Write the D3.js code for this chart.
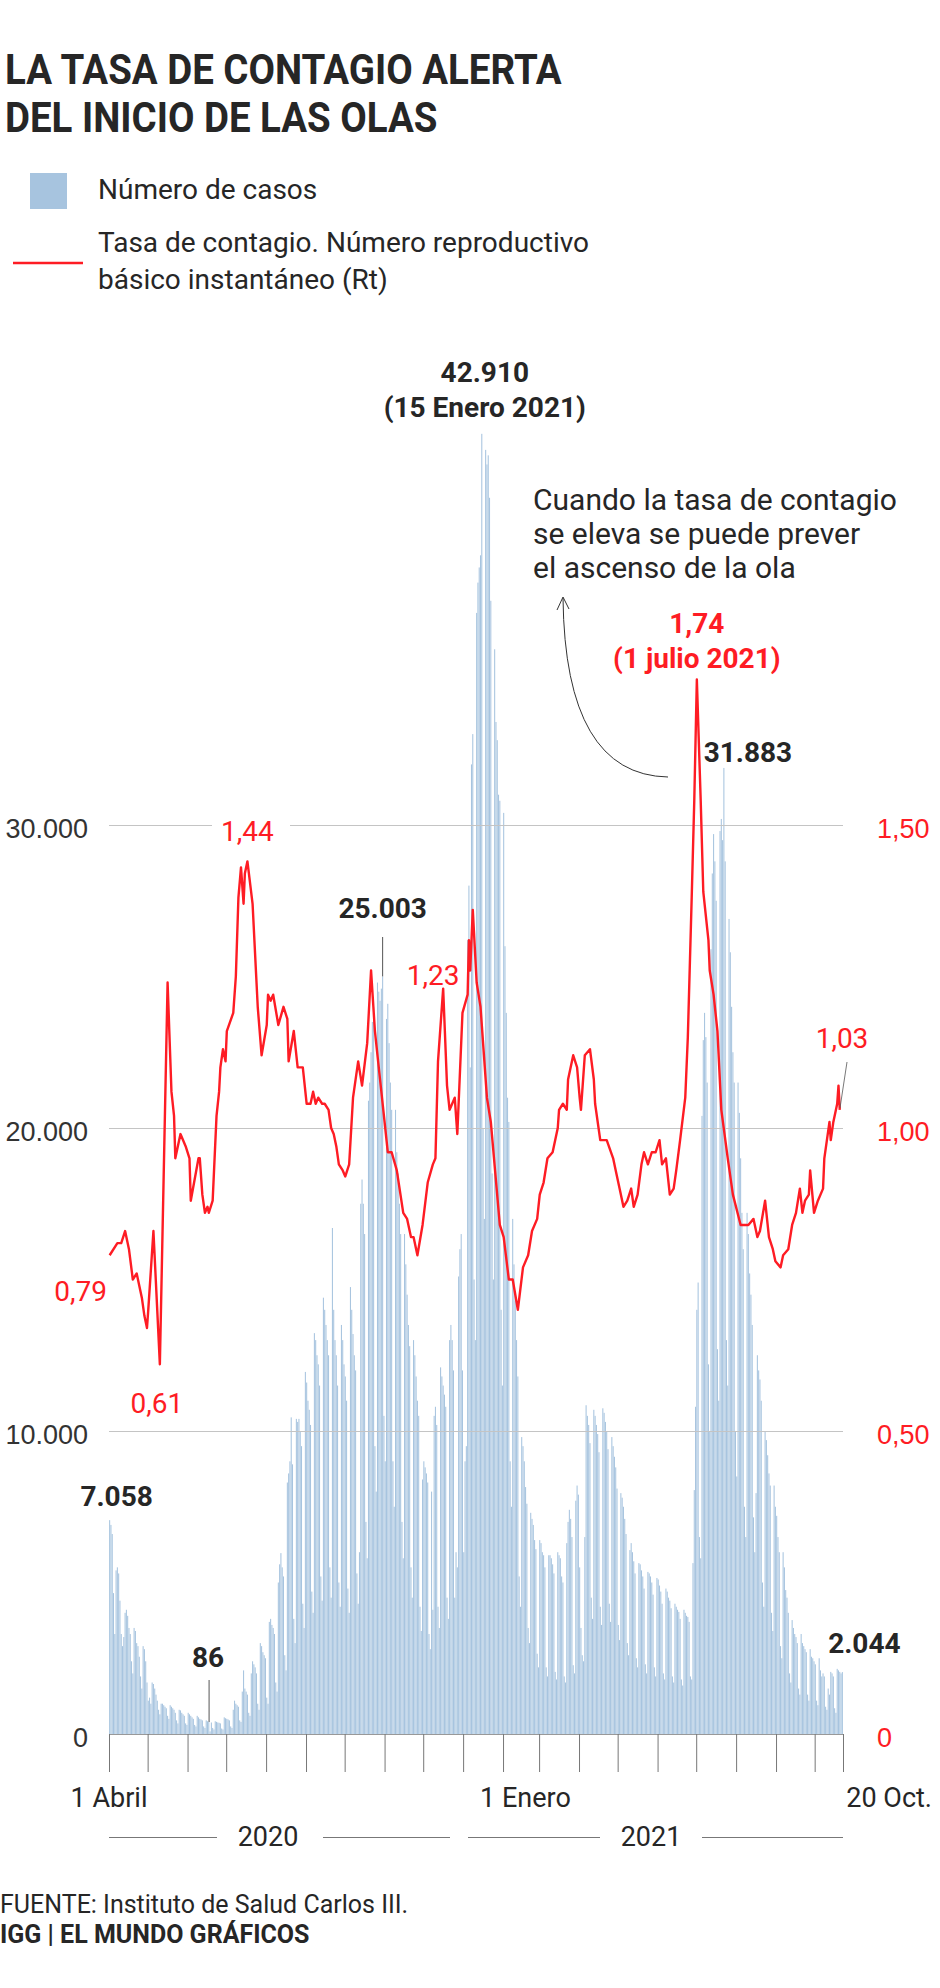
<!DOCTYPE html>
<html lang="es">
<head>
<meta charset="utf-8">
<title>La tasa de contagio alerta del inicio de las olas</title>
<script src="https://cdn.jsdelivr.net/npm/d3@7"></script>
<style>
  body { margin: 0; background: #fff; }
  svg { display: block; font-family: Roboto, "Noto Sans", sans-serif; }
</style>
</head>
<body>
<div id="chart"></div>
<script>
// daily cases, first row starts Wed 1 Apr 2020, then one row per week (Mon..Sun)
var cases = [
  7058, 6900, 6600, 4650, 3300,
  5400, 5500, 5300, 4400, 3300, 2900, 3200,
  4000, 4100, 3900, 3500, 3300, 2400, 2000,
  3500, 3400, 3000, 2900, 2550, 1900, 1500,
  2900, 2800, 2400, 1700, 1100, 1200, 1000,
  1700, 1650, 1500, 1300, 1100, 800, 650,
  1000, 1000, 950, 900, 850, 600, 500,
  950, 900, 850, 800, 700, 450, 350,
  800, 780, 700, 650, 600, 350, 300,
  700, 650, 600, 550, 500, 300, 250,
  600, 550, 500, 480, 450, 250, 200,
  450, 420, 400, 86, 380, 200, 150,
  420, 400, 380, 370, 350, 180, 150,
  550, 520, 500, 480, 450, 250, 200,
  800, 1100, 1000, 950, 900, 450, 400,
  1400, 2100, 1500, 1400, 1300, 700, 600,
  2000, 2400, 2300, 2200, 2000, 1000, 800,
  3000, 2900, 2700, 2600, 2500, 1200, 1000,
  3700, 3800, 3600, 3500, 3300, 1700, 1400,
  5000, 5600, 5970, 5500, 5200, 2600, 2100,
  8300, 8600, 9000, 10450, 8900, 3800, 3000,
  10400, 10300, 10400, 10000, 9500, 4300, 3500,
  11950, 11600, 11000, 10700, 10200, 4700, 4000,
  13230, 13000, 12500, 12200, 11500, 5200, 4400,
  14400, 14000, 13500, 13000, 12500, 5500, 4500,
  16700, 14000, 13000, 12500, 11500, 5000, 4200,
  13500, 13000, 12200, 11800, 11000, 4800, 4000,
  14750, 14000, 13200, 12500, 12000, 5300, 4300,
  6000, 17500, 18300, 17500, 16500, 7000, 5800,
  20900, 21500, 22500, 23500, 24000, 9500, 8000,
  24800, 24500, 24200, 24600, 25003, 10500, 9000,
  23600, 24100, 22800, 21500, 20600, 9000, 7500,
  20600, 19200, 18500, 17500, 16500, 7000, 5800,
  16500, 15500, 14500, 13500, 12800, 5500, 4500,
  13000, 12500, 11800, 11000, 10500, 4200, 3400,
  8400, 9000, 8800, 8600, 8300, 3300, 2800,
  8000, 4100, 10500, 10800, 10200, 4200, 3500,
  12100, 11800, 11500, 11200, 10800, 4500, 3800,
  13000, 13500, 13000, 12000, 4500, 6000, 5500,
  15100, 16000, 16500, 12000, 6000, 9000, 9500,
  26200, 28000, 22000, 32000, 33000, 15000, 13000,
  37000, 38000, 38500, 38900, 42910, 20000, 17000,
  42380, 41900, 42200, 40800, 37400, 18500, 15000,
  35800, 33400, 32800, 31000, 30800, 14000, 11500,
  30400, 26000, 23800, 21000, 20200, 9000, 7500,
  17000, 15500, 14300, 13000, 11800, 5200, 4200,
  9800, 9500, 9000, 8150, 7600, 3500, 3000,
  7300, 7100, 6900, 6400, 6100, 2650, 2200,
  6400, 6300, 6000, 5900, 5500, 2200, 1900,
  5900, 5900, 5800, 5600, 5300, 2050, 1800,
  6000, 5900, 5800, 5200, 5000, 1900, 1700,
  6300, 7000, 7400, 7100, 6500, 2270, 2000,
  7700, 8200, 7900, 5500, 3500, 2600, 2400,
  6500, 10850, 10500, 10200, 9600, 4500, 3800,
  10700, 10500, 10200, 9900, 9300, 4200, 3600,
  10750, 10600, 10300, 10000, 9400, 4300, 3700,
  9800, 9500, 9150, 8800, 8100, 3600, 3100,
  7950, 7800, 7500, 7100, 6600, 3000, 2600,
  6070, 6300, 6000, 5700, 5300, 2500, 2200,
  5640, 5600, 5400, 5200, 4800, 2300, 2000,
  5350, 5300, 5200, 5000, 4600, 2200, 1900,
  5150, 5100, 4900, 4700, 4300, 2000, 1800,
  4800, 4700, 4500, 4400, 4150, 1900, 1700,
  4300, 4200, 4100, 4030, 3800, 1800, 1600,
  4100, 4000, 3900, 3860, 3700, 1900, 1800,
  5640, 8050, 10800, 14000, 14900, 6500, 5800,
  20400, 22900, 23800, 23000, 21500, 12200, 10000,
  25900, 28400, 29700, 28800, 27500, 12700, 11000,
  29800, 30200, 29500, 31883, 28800, 13000, 11500,
  26900, 25800, 24000, 22500, 21500, 10000, 8500,
  21500, 20500, 19000, 17200, 16000, 7500, 6500,
  17200, 16500, 15200, 14500, 13500, 7150, 6000,
  7950, 12500, 12000, 11700, 11000, 5000, 4200,
  10000, 9700, 9200, 8600, 8200, 4000, 3400,
  8200, 7500, 7200, 6500, 6000, 2900, 2500,
  6000, 5500, 4750, 4500, 4000, 2000, 1700,
  3760, 3500, 3300, 3200, 3000, 1500, 1300,
  3300, 3000, 2900, 2800, 2700, 1300, 1100,
  2800, 2550, 2500, 2400, 2300, 1100, 950,
  2500, 2100, 1900, 2000, 1900, 900, 800,
  1500, 1300, 2050, 2000, 1900, 850, 700,
  2150, 2100, 2050, 2000, 2044
];
var firstDate = "2020-04-01";

// Rt: days since 1 Apr 2020 and value
var rtDay = [0, 6, 9, 12, 15, 18, 21, 25, 27, 29, 30, 34, 39, 45, 48, 50, 51, 55, 59, 62,
  63, 69, 70, 72, 74, 76, 77, 80, 83, 85, 86, 88, 90, 91, 96, 98, 100, 102, 104, 105,
  107, 111, 115, 118, 122, 123, 125, 127, 131, 135, 138, 139, 143, 146, 150, 153, 156, 158, 160, 162,
  165, 167, 170, 172, 174, 176, 178, 181, 183, 186, 189, 193, 196, 200, 203, 206, 210, 216, 219, 223,
  228, 231, 234, 236, 239, 243, 247, 251, 253, 255, 259, 262, 264, 268, 270, 274, 278, 279, 280, 282,
  285, 288, 293, 296, 303, 306, 310, 313, 317, 321, 325, 328, 332, 334, 337, 340, 344, 348, 349, 352,
  355, 356, 360, 363, 365, 366, 369, 373, 376, 377, 381, 386, 391, 393, 396, 399, 402, 405, 407, 410,
  413, 415, 418, 421, 424, 427, 429, 432, 435, 438, 440, 443, 447, 449, 452, 454, 456, 459, 461, 465,
  466, 469, 472, 475, 480, 484, 490, 492, 496, 500, 503, 505, 509, 512, 515, 517, 521, 523, 527, 530,
  533, 536, 538, 540, 543, 544, 547, 550, 554, 555, 557, 559, 560, 562, 565, 566, 567];
var rtValue = [0.79, 0.81, 0.81, 0.83, 0.80, 0.75, 0.76, 0.72, 0.69, 0.67, 0.70, 0.83, 0.61, 1.24, 1.06, 1.02, 0.95, 0.99, 0.97, 0.95,
  0.88, 0.95, 0.95, 0.89, 0.86, 0.87, 0.86, 0.88, 1.02, 1.06, 1.10, 1.13, 1.11, 1.16, 1.19, 1.25, 1.38, 1.43, 1.37, 1.42,
  1.44, 1.37, 1.20, 1.12, 1.17, 1.22, 1.21, 1.22, 1.17, 1.20, 1.18, 1.11, 1.16, 1.10, 1.10, 1.04, 1.04, 1.06, 1.04, 1.05,
  1.04, 1.04, 1.03, 1.00, 0.99, 0.97, 0.94, 0.93, 0.92, 0.94, 1.05, 1.11, 1.07, 1.14, 1.26, 1.16, 1.08, 0.96, 0.96, 0.93,
  0.86, 0.85, 0.82, 0.82, 0.79, 0.84, 0.91, 0.94, 0.95, 1.11, 1.23, 1.07, 1.03, 1.05, 0.99, 1.19, 1.22, 1.31, 1.26, 1.36,
  1.24, 1.20, 1.05, 1.01, 0.84, 0.82, 0.75, 0.75, 0.70, 0.77, 0.79, 0.83, 0.85, 0.89, 0.91, 0.95, 0.96, 1.00, 1.03, 1.04,
  1.03, 1.08, 1.12, 1.10, 1.05, 1.03, 1.12, 1.13, 1.08, 1.04, 0.98, 0.98, 0.95, 0.93, 0.90, 0.87, 0.88, 0.90, 0.87, 0.89,
  0.94, 0.96, 0.94, 0.96, 0.96, 0.98, 0.94, 0.95, 0.89, 0.90, 0.93, 0.98, 1.05, 1.15, 1.38, 1.54, 1.74, 1.54, 1.39, 1.31,
  1.26, 1.22, 1.16, 1.03, 0.95, 0.89, 0.84, 0.84, 0.84, 0.85, 0.82, 0.83, 0.88, 0.82, 0.80, 0.78, 0.77, 0.79, 0.80, 0.84,
  0.86, 0.90, 0.86, 0.88, 0.89, 0.93, 0.86, 0.88, 0.90, 0.95, 0.98, 1.01, 0.98, 1.01, 1.04, 1.07, 1.03];

var casesTicks = [0, 10000, 20000, 30000];
var rtTicks = [0, 0.5, 1, 1.5];

var red = "#fe1c24", ink = "#262626", barColor = "#a7c4df";

var esFormat = d3.formatLocale({decimal: ",", thousands: ".", grouping: [3], currency: ["", "€"]});
var fmtCases = esFormat.format(",d");
var fmtRt = function(d) { return d === 0 ? "0" : esFormat.format(".2f")(d); };

var width = 940, height = 1988;
var svg = d3.select("#chart").append("svg")
    .attr("width", width)
    .attr("height", height);

var start = d3.utcParse("%Y-%m-%d")(firstDate);
var dates = cases.map(function(d, i) { return d3.utcDay.offset(start, i); });
var end = d3.utcDay.offset(start, cases.length);

var x = d3.scaleUtc().domain([start, end]).range([109, 843]);
var yCases = d3.scaleLinear().domain([0, 30000]).range([1734, 825]);
var yRt = d3.scaleLinear().domain([0, 1.5]).range([1734, 825]);
var dayW = x(dates[1]) - x(dates[0]);

// title (condensed a little to match the original face)
var title = svg.append("g")
    .attr("transform", "translate(5,0) scale(0.915,1)")
    .attr("fill", ink).attr("font-weight", 700).attr("font-size", 42);
title.append("text").attr("x", 0).attr("y", 84).text("LA TASA DE CONTAGIO ALERTA");
title.append("text").attr("x", 0).attr("y", 132).text("DEL INICIO DE LAS OLAS");

// legend
var legend = svg.append("g").attr("fill", ink).attr("font-size", 28);
legend.append("rect").attr("x", 30).attr("y", 173).attr("width", 37).attr("height", 36).attr("fill", barColor);
legend.append("text").attr("x", 98).attr("y", 199).text("Número de casos");
legend.append("line").attr("x1", 13).attr("x2", 83).attr("y1", 263).attr("y2", 263)
    .attr("stroke", red).attr("stroke-width", 2.5);
legend.append("text").attr("x", 98).attr("y", 252).text("Tasa de contagio. Número reproductivo");
legend.append("text").attr("x", 98).attr("y", 289).text("básico instantáneo (Rt)");

// bars
svg.append("g")
    .attr("fill", barColor)
  .selectAll("rect")
  .data(cases)
  .enter().append("rect")
    .attr("x", function(d, i) { return x(dates[i]) + 0.12; })
    .attr("width", dayW - 0.24)
    .attr("y", function(d) { return yCases(d); })
    .attr("height", function(d) { return yCases(0) - yCases(d); });

// grid lines over the bars
svg.append("g")
    .attr("transform", "translate(109,0)")
    .call(d3.axisLeft(yCases).tickValues(casesTicks.slice(1)).tickSize(-(843 - 109)).tickFormat(""))
    .call(function(g) { g.select(".domain").remove(); })
    .selectAll("line").attr("stroke", "#c4c4c4");

// knock out the grid line behind the 1,44 label
svg.append("rect").attr("x", 212).attr("y", 815).attr("width", 78).attr("height", 30).attr("fill", "#fff");

// time axis with monthly ticks
var monthTicks = d3.utcMonth.range(start, end).concat([end]);
svg.append("g")
    .attr("transform", "translate(0,1734)")
    .call(d3.axisBottom(x).tickValues(monthTicks).tickSize(38).tickFormat("").tickSizeOuter(0))
    .call(function(g) {
      g.select(".domain").attr("stroke", "#999");
      g.selectAll(".tick line").attr("stroke", "#777");
    });

// left and right value axes
svg.append("g")
    .attr("transform", "translate(88,0)")
    .call(d3.axisLeft(yCases).tickValues(casesTicks).tickSize(0).tickPadding(0).tickFormat(fmtCases))
    .call(function(g) {
      g.select(".domain").remove();
      g.selectAll("text").attr("font-size", 27).attr("fill", "#333").attr("dy", 12)
        .attr("font-family", null);
    });
svg.append("g")
    .attr("transform", "translate(877,0)")
    .call(d3.axisRight(yRt).tickValues(rtTicks).tickSize(0).tickPadding(0).tickFormat(fmtRt))
    .call(function(g) {
      g.select(".domain").remove();
      g.selectAll("text").attr("font-size", 27).attr("fill", red).attr("dy", 12)
        .attr("font-family", null);
    });

// Rt line
var rt = rtDay.map(function(d, i) { return {date: d3.utcDay.offset(start, d), value: rtValue[i]}; });
svg.append("path")
    .datum(rt)
    .attr("fill", "none")
    .attr("stroke", red)
    .attr("stroke-width", 2.4)
    .attr("stroke-linejoin", "round")
    .attr("d", d3.line()
      .x(function(d) { return x(d.date) + dayW / 2; })
      .y(function(d) { return yRt(d.value); }));

// date labels under the axis
var dateLabels = svg.append("g").attr("font-size", 27).attr("fill", ink);
dateLabels.append("text").attr("x", x(start)).attr("y", 1807).attr("text-anchor", "middle").text("1 Abril");
dateLabels.append("text").attr("x", x(new Date(Date.UTC(2021, 0, 1))) + 17).attr("y", 1807).text("1 Enero");
dateLabels.append("text").attr("x", 932).attr("y", 1807).attr("text-anchor", "end").text("20 Oct.");

// year brackets
var years = svg.append("g").attr("font-size", 27).attr("fill", ink);
var yearLines = [[109, 217], [323, 450], [468, 600], [702, 843]];
years.selectAll("line").data(yearLines).enter().append("line")
    .attr("x1", function(d) { return d[0]; }).attr("x2", function(d) { return d[1]; })
    .attr("y1", 1837.5).attr("y2", 1837.5).attr("stroke", "#777");
years.append("text").attr("x", 268).attr("y", 1846).attr("text-anchor", "middle").text("2020");
years.append("text").attr("x", 651).attr("y", 1846).attr("text-anchor", "middle").text("2021");

// case annotations
function barX(v) { var i = cases.indexOf(v); return x(dates[i]) + dayW / 2; }
var notes = svg.append("g").attr("font-size", 28).attr("font-weight", 700).attr("fill", ink).attr("text-anchor", "middle");

notes.append("text").attr("x", barX(42910) + 3).attr("y", 382).text("42.910");
notes.append("text").attr("x", barX(42910) + 3).attr("y", 417).text("(15 Enero 2021)");

notes.append("text").attr("x", barX(25003)).attr("y", 918).text("25.003");
svg.append("line").attr("x1", barX(25003)).attr("x2", barX(25003))
    .attr("y1", 937).attr("y2", yCases(25003)).attr("stroke", "#555");

notes.append("text").attr("x", barX(31883) + 24).attr("y", 762).text("31.883");
notes.append("text").attr("x", barX(7058) + 7).attr("y", 1506).text("7.058");
notes.append("text").attr("x", barX(86) - 2).attr("y", 1667).text("86");
svg.append("line").attr("x1", barX(86) - 1).attr("x2", barX(86) - 1)
    .attr("y1", 1680).attr("y2", 1722).attr("stroke", "#555");
notes.append("text").attr("x", barX(2044) + 22).attr("y", 1653).text("2.044");

// Rt annotations
function rtX(v) { return x(d3.utcDay.offset(start, rtDay[rtValue.indexOf(v)])) + dayW / 2; }
var rtNotes = svg.append("g").attr("font-size", 28).attr("fill", red).attr("text-anchor", "middle");
rtNotes.append("text").attr("x", rtX(1.74)).attr("y", 633).attr("font-weight", 700).text("1,74");
rtNotes.append("text").attr("x", rtX(1.74)).attr("y", 668).attr("font-weight", 700).text("(1 julio 2021)");
rtNotes.append("text").attr("x", rtX(1.44)).attr("y", 841).text("1,44");
rtNotes.append("text").attr("x", rtX(1.23) - 10).attr("y", 985).text("1,23");
rtNotes.append("text").attr("x", 107).attr("y", 1301).attr("text-anchor", "end").text("0,79");
rtNotes.append("text").attr("x", rtX(0.61) - 3).attr("y", 1413).text("0,61");
rtNotes.append("text").attr("x", 842).attr("y", 1048).text("1,03");
svg.append("line").attr("x1", 847).attr("y1", 1062).attr("x2", 840).attr("y2", 1108)
    .attr("stroke", "#555").attr("stroke-width", 0.8);

// explanatory note with curved arrow
var expl = svg.append("g").attr("font-size", 30).attr("fill", ink);
["Cuando la tasa de contagio", "se eleva se puede prever", "el ascenso de la ola"].forEach(function(t, i) {
  expl.append("text").attr("x", 533).attr("y", 510 + i * 34).text(t);
});
svg.append("path")
    .attr("d", "M668,777 Q565,775 563,598")
    .attr("fill", "none").attr("stroke", "#333").attr("stroke-width", 1);
svg.append("path")
    .attr("d", "M557,610 L563,597 L569,609")
    .attr("fill", "none").attr("stroke", "#333").attr("stroke-width", 1);

// source
var foot = svg.append("g").attr("font-size", 25).attr("fill", ink);
foot.append("text").attr("x", 0).attr("y", 1913).text("FUENTE: Instituto de Salud Carlos III.");
foot.append("text").attr("x", 0).attr("y", 1943).attr("font-weight", 700).text("IGG | EL MUNDO GRÁFICOS");
</script>
</body>
</html>
